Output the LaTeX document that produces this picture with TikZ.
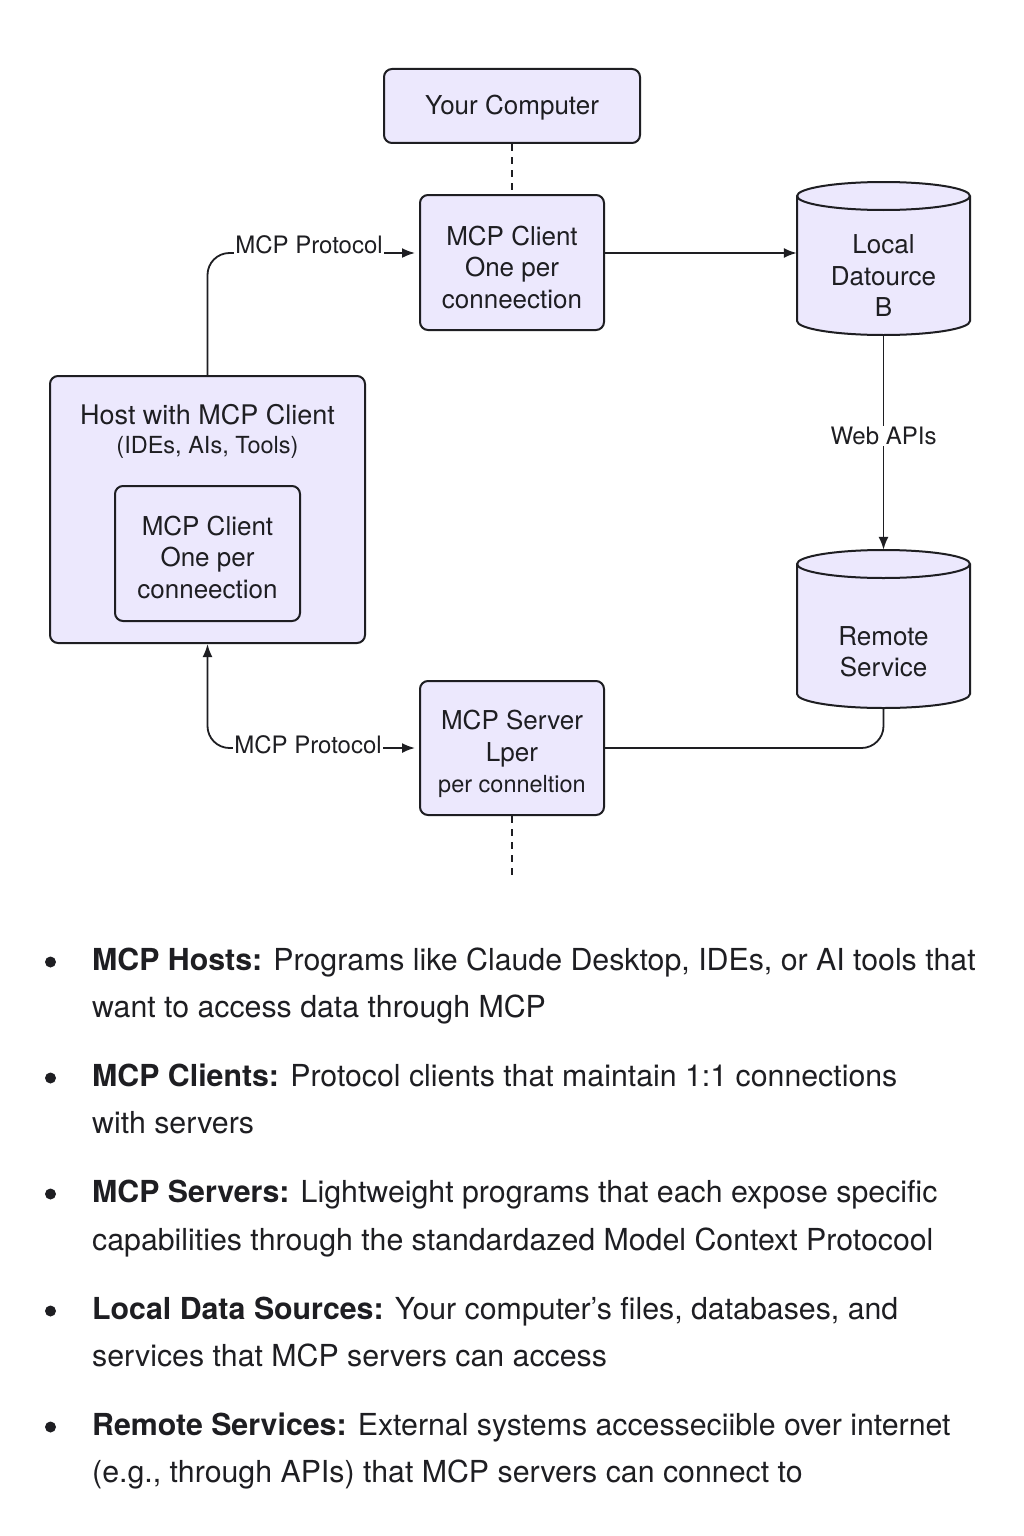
\documentclass[tikz,border=0pt]{standalone}
\usepackage{fontspec}
\setmainfont{TeX Gyre Heros}
\usetikzlibrary{arrows.meta}
\definecolor{boxfill}{RGB}{236,232,253}
\definecolor{ink}{RGB}{30,30,34}
\tikzset{
  box/.style={draw=ink, fill=boxfill, line width=2pt, rounded corners=8pt, inner sep=0pt},
  btext/.style={inner sep=0pt, align=center, font=\fontsize{26}{31.5}\selectfont, text=ink},
  conn/.style={draw=ink, line width=1.8pt},
  tip/.tip={Latex[length=13pt,width=10pt]},
  arr/.style={conn, -tip},
  dashline/.style={conn, dash pattern=on 7pt off 6pt},
  lbl/.style={fill=white, inner sep=1.5pt, font=\fontsize{24}{28}\selectfont, text=ink},
  btxt/.style={anchor=base west, inner sep=0pt, font=\fontsize{30.3}{36}\selectfont, text=ink},
  bdot/.style={fill=ink, draw=none, circle, minimum size=11pt, inner sep=0pt},
}
\newcommand{\cylpath}[4]{% left x, right x, top y, bottom y (px)
  \filldraw[draw=ink, fill=boxfill, line width=2pt]
    (#1,#3+14) -- (#1,#4-14) arc[start angle=180,end angle=360,x radius={(#2-#1)/2*1pt},y radius=14pt]
    -- (#2,#3+14) arc[start angle=0,end angle=180,x radius={(#2-#1)/2*1pt},y radius=14pt] -- cycle;
  \draw[draw=ink, line width=2pt] (#1,#3+14) arc[start angle=180,end angle=360,x radius={(#2-#1)/2*1pt},y radius=14pt];
}
\begin{document}
\begin{tikzpicture}[x=1pt,y=-1pt]
\useasboundingbox[fill=white] (0,0) rectangle (1024,1536);

% cylinders (drawn shapes)
\cylpath{797}{970}{182}{335}
\cylpath{797}{970}{550}{708}

% boxes
\node[box, minimum width=256pt, minimum height=74pt] (yc) at (512,106) {};
\node[btext] (yctxt) at (512,108) {Your Computer};
\node[box, minimum width=184pt, minimum height=135pt] (client) at (512,262.5) {};
\node[btext] (clienttxt) at (512,267) {MCP Client\\One per\\conneection};
\node[minimum width=173pt, minimum height=153pt, inner sep=0pt] (local) at (883.5,258.5) {};
\node[btext] (localtxt) at (883.5,276) {Local\\Datource\\B};
\node[minimum width=173pt, minimum height=158pt, inner sep=0pt] (remote) at (883.5,629) {};
\node[btext] (remotetxt) at (883.5,652) {Remote\\Service};
\node[box, minimum width=184pt, minimum height=134pt] (server) at (512,748) {};
\node[btext] (servertxt) at (512,754) {MCP Server\\Lper\\{\fontsize{23.5}{31.5}\selectfont per conneltion}};
\node[box, minimum width=315pt, minimum height=267pt] (host) at (207.5,509.5) {};
\node[inner sep=0pt, font=\fontsize{27}{30}\selectfont, text=ink] (hosttitle) at (207.5,415) {Host with MCP Client};
\node[inner sep=0pt, font=\fontsize{23.5}{28}\selectfont, text=ink] (hostsub) at (207.5,447) {(IDEs, AIs, Tools)};
\node[box, minimum width=185pt, minimum height=135pt] (inner) at (207.5,553.5) {};
\node[btext] (innertxt) at (207.5,557) {MCP Client\\One per\\conneection};

\coordinate (dashend) at (512,875);
\path ([yshift=9.5pt]client.east) coordinate (ce)
      ([xshift=-4pt,yshift=9.5pt]client.west) coordinate (cw);

% connectors
\draw[dashline] (yc.south) -- (client.north);
\draw[dashline] (server.south) -- (dashend);
\draw[arr] (ce) -- (local.west |- ce);
\draw[arr] (local.south) -- node[lbl, pos=0.47] {Web APIs} (remote.north);
\draw[conn, rounded corners=22pt] (remote.south) |- (server.east);
\draw[arr, rounded corners=22pt] (host.north) |- (cw);
\node[lbl, inner sep=1pt] (lbltop) at (309,245) {MCP Protocol};
\draw[conn, tip-tip, rounded corners=22pt]
  (host.south) |- ([xshift=-4pt]server.west);
\node[lbl] (lblbot) at (308,745) {MCP Protocol};

% bullets
\foreach \y in {970,1086,1202,1319,1435} {
  \node[bdot] at (50.5,\y-8) {};
}
\node[btxt] (b1a) at (92,970) {\textbf{MCP Hosts:} Programs like Claude Desktop, IDEs, or AI tools that};
\node[btxt] (b1b) at (92,1017) {want to access data through MCP};
\node[btxt] (b2a) at (92,1086) {\textbf{MCP Clients:} Protocol clients that maintain 1:1 connections};
\node[btxt] (b2b) at (92,1133) {with servers};
\node[btxt] (b3a) at (92,1202) {\textbf{MCP Servers:} Lightweight programs that each expose specific};
\node[btxt] (b3b) at (92,1250) {capabilities through the standardazed Model Context Protocool};
\node[btxt] (b4a) at (92,1319) {\textbf{Local Data Sources:} Your computer’s files, databases, and};
\node[btxt] (b4b) at (92,1366) {services that MCP servers can access};
\node[btxt] (b5a) at (92,1435) {\textbf{Remote Services:} External systems accesseciible over internet};
\node[btxt] (b5b) at (92,1482) {(e.g., through APIs) that MCP servers can connect to};
\end{tikzpicture}
\end{document}
